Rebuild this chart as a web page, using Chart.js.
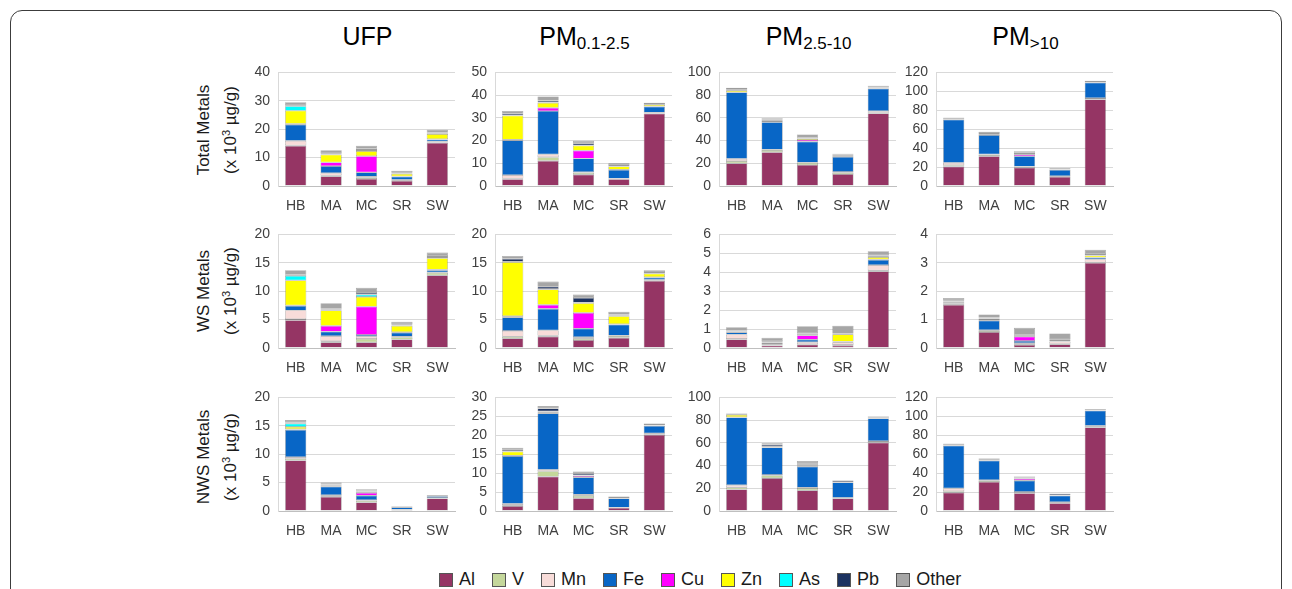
<!DOCTYPE html>
<html>
<head>
<meta charset="utf-8">
<script src="https://cdn.jsdelivr.net/npm/chart.js@4.4.1/dist/chart.umd.min.js"></script>
<style>
  html, body { margin: 0; padding: 0; background: #fff; }
  body { width: 1292px; height: 589px; position: relative; overflow: hidden;
         font-family: "Liberation Sans", Arial, sans-serif; }
  #frame { position: absolute; left: 10px; top: 10px; width: 1272px; height: 640px;
           border: 1.5px solid #3c3c3c; border-radius: 12px; box-sizing: border-box; }
  .coltitle { position: absolute; top: 22px; font-size: 25px; color: #000;
              transform: translateX(-50%); white-space: nowrap; }
  .coltitle sub { font-size: 17px; vertical-align: -4px; }
  .rowtitle { position: absolute; width: 200px; text-align: center; font-size: 17px;
              line-height: 22px; color: #1a1a1a; transform: translate(-50%, -50%) rotate(-90deg); }
  .rowtitle sup { font-size: 11px; vertical-align: 6px; }
  canvas.panel { position: absolute; }
  #legend { position: absolute; top: 569px; left: 439px; display: flex; font-size: 18px; color: #1a1a1a; }
  #legend .item { display: flex; align-items: center; margin-right: 17px; }
  #legend .sw { width: 12px; height: 12px; border: 1px solid #555; margin-right: 6px; }
</style>
</head>
<body>
<div id="frame"></div>
<div id="titles"></div>
<div id="legend"></div>

<script>
// Sampling sites (x categories) and metal fractions (stack order, bottom to top)
const sites = ["HB", "MA", "MC", "SR", "SW"];
const metals = ["Al", "V", "Mn", "Fe", "Cu", "Zn", "As", "Pb", "Other"];
const metalColors = ["#953564", "#c4d79b", "#f8dcd9", "#0866c6", "#ff00ff", "#ffff00", "#00ffff", "#1c3260", "#a6a6a6"];

// Column (size fraction) and row (metal pool) headings
const sizeTitles = ["UFP", "PM<sub>0.1-2.5</sub>", "PM<sub>2.5-10</sub>", "PM<sub>&gt;10</sub>"];
const poolTitles = [
  ["Total  Metals", "(x 10<sup>3</sup> µg/g)"],
  ["WS Metals", "(x 10<sup>3</sup> µg/g)"],
  ["NWS Metals", "(x 10<sup>3</sup> µg/g)"]
];

// Concentrations (x 10^3 µg/g); one row per metal, one value per site
const totalUFP = [
  [14.1, 3.4, 2.5, 1.8, 15.2],
  [0.2, 0.3, 0.5, 0.2, 0.2],
  [1.6, 0.8, 0.3, 0.2, 0.3],
  [5.7, 2.5, 1.5, 1.1, 0.7],
  [0.3, 1.3, 5.7, 0.1, 0.1],
  [4.6, 2.7, 1.8, 0.9, 1.8],
  [1.6, 0.1, 0.4, 0.1, 0.2],
  [0.3, 0.4, 0.4, 0.3, 0.3],
  [1.1, 1.1, 1.1, 0.7, 1.0]
];
const totalFine = [
  [3.0, 11.1, 5.0, 3.0, 31.8],
  [0.3, 1.6, 0.8, 0.2, 0.2],
  [1.5, 1.2, 0.3, 0.1, 0.3],
  [15.3, 19.1, 6.0, 3.8, 2.6],
  [0.3, 1.4, 3.5, 0.1, 0.1],
  [10.6, 2.2, 2.2, 1.4, 0.7],
  [0.1, 0.2, 0.1, 0.1, 0.1],
  [0.7, 0.8, 0.9, 0.5, 0.3],
  [1.2, 1.8, 1.1, 0.8, 0.5]
];
const totalCoarse = [
  [19.9, 29.8, 18.5, 10.5, 63.9],
  [2.0, 1.8, 1.8, 1.4, 0.5],
  [2.0, 0.5, 0.4, 0.5, 1.5],
  [58.5, 24.0, 18.4, 13.2, 19.9],
  [0.3, 0.3, 1.4, 0.1, 0.2],
  [1.5, 0.9, 1.1, 0.9, 0.8],
  [0.2, 0.2, 0.2, 0.1, 0.1],
  [0.8, 1.0, 0.6, 1.0, 0.8],
  [1.2, 1.2, 3.0, 0.7, 0.6]
];
const totalLarge = [
  [20.5, 31.4, 19.4, 9.5, 91.4],
  [1.5, 1.5, 1.0, 0.8, 0.5],
  [2.5, 0.5, 0.2, 0.2, 1.0],
  [45.5, 20.4, 10.8, 6.6, 16.3],
  [0.2, 0.3, 1.6, 0.1, 0.2],
  [0.8, 0.8, 0.7, 0.3, 0.3],
  [0.1, 0.1, 0.1, 0.1, 0.1],
  [1.0, 1.0, 1.2, 1.2, 1.0],
  [0.3, 1.3, 1.8, 0.3, 0.5]
];
const wsUFP = [
  [4.9, 1.0, 1.0, 1.5, 12.8],
  [0.2, 0.2, 0.6, 0.4, 0.4],
  [1.5, 0.9, 0.4, 0.1, 0.1],
  [0.8, 0.8, 0.3, 0.7, 0.4],
  [0.1, 1.0, 5.0, 0.1, 0.1],
  [4.4, 2.7, 1.7, 1.1, 2.0],
  [0.8, 0.2, 0.4, 0.1, 0.2],
  [0.2, 0.1, 0.3, 0.2, 0.2],
  [0.8, 1.0, 0.9, 0.4, 0.6]
];
const wsFine = [
  [1.7, 2.0, 1.4, 1.8, 11.8],
  [0.3, 0.2, 0.3, 0.3, 0.1],
  [1.0, 0.9, 0.2, 0.1, 0.1],
  [2.4, 3.8, 1.5, 1.9, 0.4],
  [0.2, 0.7, 2.8, 0.1, 0.1],
  [9.5, 2.7, 1.7, 1.4, 0.6],
  [0.1, 0.1, 0.1, 0.1, 0.1],
  [0.5, 0.4, 0.8, 0.2, 0.2],
  [0.5, 0.9, 0.6, 0.5, 0.3]
];
const wsCoarse = [
  [0.45, 0.12, 0.18, 0.12, 4.05],
  [0.03, 0.03, 0.03, 0.04, 0.05],
  [0.23, 0.05, 0.10, 0.14, 0.28],
  [0.12, 0.07, 0.13, 0.03, 0.27],
  [0.01, 0.02, 0.22, 0.01, 0.03],
  [0.02, 0.01, 0.06, 0.38, 0.12],
  [0.01, 0.01, 0.01, 0.01, 0.02],
  [0.05, 0.05, 0.04, 0.03, 0.07],
  [0.18, 0.18, 0.38, 0.42, 0.22]
];
const wsLarge = [
  [1.52, 0.56, 0.11, 0.13, 3.00],
  [0.03, 0.05, 0.02, 0.02, 0.02],
  [0.02, 0.02, 0.04, 0.07, 0.10],
  [0.04, 0.33, 0.08, 0.02, 0.06],
  [0.01, 0.03, 0.15, 0.01, 0.01],
  [0.01, 0.04, 0.02, 0.03, 0.07],
  [0.01, 0.01, 0.01, 0.01, 0.01],
  [0.04, 0.03, 0.04, 0.03, 0.04],
  [0.08, 0.11, 0.24, 0.19, 0.15]
];
const nwsUFP = [
  [8.9, 2.5, 1.5, 0.2, 2.2],
  [0.3, 0.2, 0.3, 0.02, 0.05],
  [0.3, 0.1, 0.1, 0.03, 0.05],
  [4.8, 1.5, 0.8, 0.4, 0.3],
  [0.1, 0.2, 0.5, 0.02, 0.02],
  [0.4, 0.1, 0.2, 0.02, 0.03],
  [0.6, 0.05, 0.05, 0.01, 0.01],
  [0.2, 0.15, 0.15, 0.08, 0.1],
  [0.4, 0.2, 0.25, 0.05, 0.05]
];
const nwsFine = [
  [1.3, 9.1, 3.4, 0.8, 20.1],
  [0.2, 1.4, 0.6, 0.05, 0.1],
  [0.4, 0.4, 0.3, 0.05, 0.3],
  [12.6, 14.9, 4.6, 2.4, 2.0],
  [0.1, 0.3, 0.4, 0.05, 0.05],
  [1.1, 0.1, 0.1, 0.05, 0.1],
  [0.1, 0.1, 0.05, 0.02, 0.05],
  [0.4, 0.8, 0.5, 0.3, 0.3],
  [0.5, 0.6, 0.5, 0.1, 0.1]
];
const nwsCoarse = [
  [19.0, 29.0, 18.2, 11.1, 60.2],
  [1.8, 2.3, 2.0, 0.3, 0.5],
  [1.9, 0.5, 0.3, 0.2, 0.9],
  [59.7, 24.2, 18.5, 13.5, 19.9],
  [0.2, 0.2, 1.0, 0.1, 0.2],
  [2.0, 0.8, 0.7, 0.2, 0.6],
  [0.1, 0.1, 0.1, 0.1, 0.1],
  [0.6, 1.5, 1.2, 1.3, 0.6],
  [0.5, 1.1, 2.1, 0.2, 0.3]
];
const nwsLarge = [
  [19.4, 30.7, 18.8, 8.2, 88.3],
  [1.5, 1.5, 1.1, 1.0, 0.6],
  [3.0, 0.5, 0.2, 0.2, 1.1],
  [45.0, 20.5, 11.9, 6.8, 16.0],
  [0.2, 0.2, 2.0, 0.1, 0.2],
  [0.8, 0.7, 0.6, 0.2, 0.3],
  [0.1, 0.1, 0.1, 0.1, 0.1],
  [1.0, 1.0, 0.8, 1.5, 1.0],
  [0.3, 0.5, 1.0, 0.3, 0.2]
];

// Y-axis ranges: maximum and tick step per panel, row by row
const yMax = [
  [40, 50, 100, 120],
  [20, 20, 6, 4],
  [20, 30, 100, 120]
];
const yStep = [
  [10, 10, 20, 20],
  [5, 5, 1, 1],
  [5, 5, 20, 20]
];

const panelData = [
  [totalUFP, totalFine, totalCoarse, totalLarge],
  [wsUFP, wsFine, wsCoarse, wsLarge],
  [nwsUFP, nwsFine, nwsCoarse, nwsLarge]
];

// Grid geometry (page pixels)
const plotLeft = [278, 495, 719, 936];
const plotTop = [68, 230, 393];
const plotW = 179, plotH = 118;
const axisW = 45, axisH = 30, padTop = 12, padRight = 4;
const FONT = "'Liberation Sans', Arial, sans-serif";

// Headings
const titles = document.getElementById('titles');
sizeTitles.forEach((t, c) => {
  const d = document.createElement('div');
  d.className = 'coltitle';
  d.innerHTML = t;
  d.style.left = (plotLeft[c] + plotW / 2) + 'px';
  titles.appendChild(d);
});
const rowCenters = [130, 291, 457];
poolTitles.forEach((t, r) => {
  const d = document.createElement('div');
  d.className = 'rowtitle';
  d.innerHTML = t.join('<br>');
  d.style.left = '217px';
  d.style.top = rowCenters[r] + 'px';
  titles.appendChild(d);
});

// Legend
const legend = document.getElementById('legend');
metals.forEach((m, i) => {
  const it = document.createElement('div');
  it.className = 'item';
  it.innerHTML = '<span class="sw" style="background:' + metalColors[i] + '"></span><span>' + m + '</span>';
  legend.appendChild(it);
});

// One stacked bar chart per panel
function drawPanel(r, c) {
  const cv = document.createElement('canvas');
  cv.className = 'panel';
  cv.width = axisW + plotW + padRight;
  cv.height = padTop + plotH + axisH;
  cv.style.left = (plotLeft[c] - axisW) + 'px';
  cv.style.top = (plotTop[r] - padTop) + 'px';
  document.body.appendChild(cv);
  const rows = panelData[r][c];
  new Chart(cv, {
    type: 'bar',
    data: {
      labels: sites,
      datasets: metals.map((m, i) => ({
        label: m,
        data: rows[i],
        backgroundColor: metalColors[i],
        borderColor: 'rgba(90,90,90,0.6)',
        borderWidth: 0.6,
        borderSkipped: false,
        barPercentage: 0.6,
        categoryPercentage: 1
      }))
    },
    options: {
      responsive: false,
      animation: false,
      layout: { padding: { top: padTop, right: padRight, left: 0, bottom: 0 } },
      plugins: { legend: { display: false }, tooltip: { enabled: false } },
      scales: {
        x: {
          stacked: true,
          grid: { display: false, drawTicks: false },
          border: { color: '#bfbfbf', width: 1 },
          ticks: { padding: 12, color: '#404040', font: { family: FONT, size: 14 } },
          afterFit(s) { s.height = axisH; }
        },
        y: {
          stacked: true,
          min: 0,
          max: yMax[r][c],
          grid: { color: '#d9d9d9', drawTicks: false },
          border: { color: '#d9d9d9', width: 1 },
          ticks: { stepSize: yStep[r][c], autoSkip: false, padding: 8, color: '#404040', font: { family: FONT, size: 14 } },
          afterFit(s) { s.width = axisW; }
        }
      }
    }
  });
}

for (let r = 0; r < 3; r++) {
  for (let c = 0; c < 4; c++) drawPanel(r, c);
}
</script>
</body>
</html>
